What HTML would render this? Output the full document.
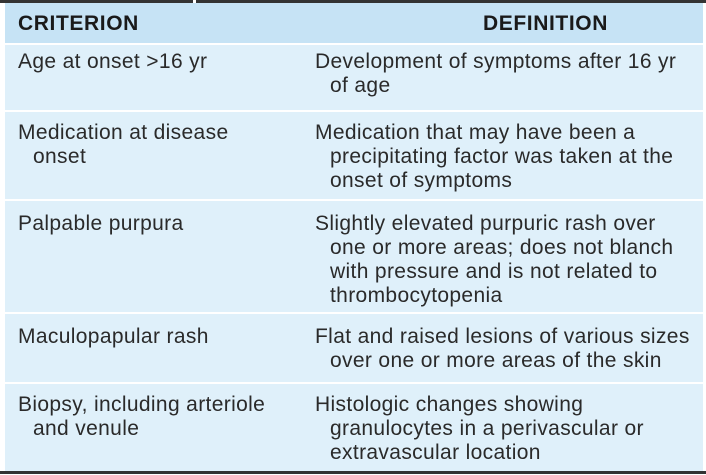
<!DOCTYPE html>
<html><head><meta charset="utf-8"><style>
body{margin:0;width:706px;height:475px;background:#fff;position:relative;overflow:hidden;font-family:"Liberation Sans",sans-serif;color:#2a2a2a}
.b{position:absolute;left:5px;width:698px}
.t{position:absolute;font-size:21px;letter-spacing:0.35px;white-space:nowrap;line-height:24px}
.t i{font-style:normal;display:block;padding-left:15px}
.h{position:absolute;font-size:21px;letter-spacing:0.6px;font-weight:bold;color:#1a1a1a;line-height:24px}
.ln{position:absolute;top:0;height:3px;background:#333}
</style></head><body>
<div class="ln" style="left:0;width:193px"></div>
<div class="ln" style="left:196px;width:510px"></div>
<div class="b" style="top:3px;height:40px;background:#c6e3f5"></div>
<div class="h" style="left:18px;top:12px">CRITERION</div>
<div class="h" style="left:483px;top:12px">DEFINITION</div>
<div class="b" style="top:45px;height:65px;background:#dff0fa"></div>
<div class="b" style="top:112px;height:87px;background:#dff0fa"></div>
<div class="b" style="top:201px;height:111px;background:#dff0fa"></div>
<div class="b" style="top:314px;height:68px;background:#dff0fa"></div>
<div class="b" style="top:384px;height:87px;background:#dff0fa"></div>
<div class="b" style="top:471px;height:3px;left:0;width:706px;background:#333"></div>

<div class="t" style="left:18px;top:50px">Age at onset &gt;16 yr</div>
<div class="t" style="left:315px;top:50px">Development of symptoms after 16 yr<i>of age</i></div>

<div class="t" style="left:18px;top:121px">Medication at disease<i>onset</i></div>
<div class="t" style="left:315px;top:121px">Medication that may have been a<i>precipitating factor was taken at the</i><i>onset of symptoms</i></div>

<div class="t" style="left:18px;top:212px">Palpable purpura</div>
<div class="t" style="left:315px;top:212px">Slightly elevated purpuric rash over<i>one or more areas; does not blanch</i><i>with pressure and is not related to</i><i>thrombocytopenia</i></div>

<div class="t" style="left:18px;top:325px">Maculopapular rash</div>
<div class="t" style="left:315px;top:325px">Flat and raised lesions of various sizes<i>over one or more areas of the skin</i></div>

<div class="t" style="left:18px;top:393px">Biopsy, including arteriole<i>and venule</i></div>
<div class="t" style="left:315px;top:393px">Histologic changes showing<i>granulocytes in a perivascular or</i><i>extravascular location</i></div>
</body></html>
